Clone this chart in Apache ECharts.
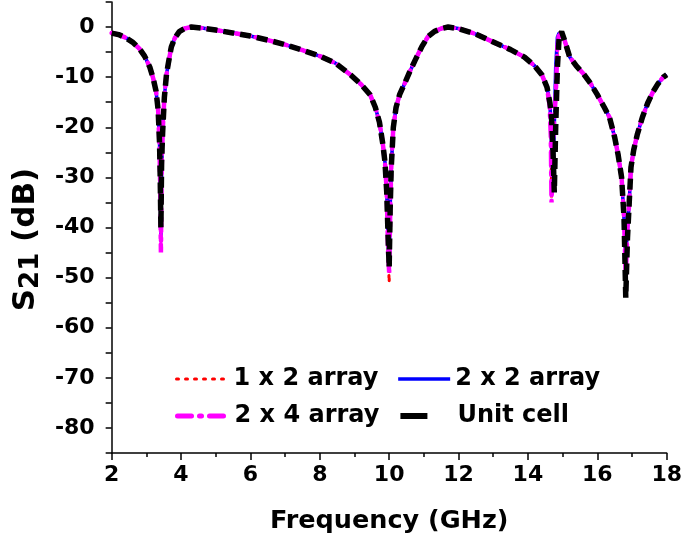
<!DOCTYPE html>
<html>
<head>
<meta charset="utf-8">
<script src="https://cdn.jsdelivr.net/npm/echarts@6/dist/echarts.min.js"></script>
<style>html,body{margin:0;padding:0;background:#fff}#c{width:685px;height:540px}</style>
</head>
<body>
<div id="c"></div>
<script>
var freq = [2.0,2.2,2.4,2.6,2.8,2.95,3.1,3.2,3.28,3.34,
  3.38,3.40,3.42,3.44,3.47,3.52,3.58,3.64,3.72,3.82,
  3.95,4.1,4.3,4.6,5.0,5.6,6.0,6.5,7.0,7.5,
  8.0,8.45,8.9,9.2,9.45,9.6,9.72,9.82,9.88,9.93,
  9.97,10.0,10.03,10.06,10.12,10.2,10.3,10.45,10.6,10.75,
  10.95,11.12,11.3,11.5,11.7,12.0,12.5,13.1,13.5,13.9,
  14.2,14.4,14.55,14.63,14.66,14.68,14.72,14.76,14.8,14.85,
  14.9,14.97,15.05,15.2,15.4,15.6,15.8,16.0,16.2,16.35,
  16.5,16.6,16.7,16.77,16.82,16.87,16.92,16.97,17.05,17.15,
  17.3,17.45,17.6,17.75,17.9,18.0];

var unitCell = [-1.2,-1.5,-2.1,-3.0,-4.3,-5.8,-8.0,-10.3,-12.8,-16.5,
  -23,-30,-40,-27,-21,-14,-9.5,-7,-4,-2.2,
  -0.9,-0.3,0,-0.2,-0.6,-1.3,-1.8,-2.6,-3.5,-4.6,
  -5.8,-7.2,-9.6,-11.5,-13.5,-16,-19,-23.5,-27,-33,
  -42,-48,-36,-28,-20,-16,-13.5,-11.2,-8.8,-6.6,
  -3.8,-1.9,-0.9,-0.3,0,-0.3,-1.4,-3.3,-4.5,-6.0,
  -7.8,-9.5,-12,-15,-16.5,-18,-24,-33,-20,-8,
  -2,-0.9,-2.5,-5.9,-7.8,-9.3,-11.2,-13.5,-16,-18,
  -22,-25.5,-30,-38,-54,-42,-35,-28,-24.5,-21.5,
  -18,-15.2,-13,-11.3,-10,-9.5];

var array2x4 = [-1.2,-1.5,-2.1,-3.0,-4.3,-5.8,-8.0,-10.3,-12.8,-16.5,
  -24,-32,-45,-29,-21,-14,-9.5,-7,-4,-2.2,
  -0.9,-0.3,0,-0.2,-0.6,-1.3,-1.8,-2.6,-3.5,-4.6,
  -5.8,-7.2,-9.6,-11.5,-13.5,-16,-19,-23.5,-27,-33,
  -45,-49,-37,-28,-20,-16,-13.5,-11.2,-8.8,-6.6,
  -3.8,-1.9,-0.9,-0.3,0,-0.3,-1.4,-3.3,-4.5,-6.0,
  -7.8,-9.5,-12,-16,-22,-35,-24,-18,-14,-4,
  -1,-1.5,-2.5,-5.9,-7.8,-9.3,-11.2,-13.5,-16,-18,
  -22,-25.5,-30,-38,-50,-40,-35,-28,-24.5,-21.5,
  -18,-15.2,-13,-11.3,-10,-9.5];

var array2x2 = [-1.2,-1.5,-2.1,-3.0,-4.3,-5.8,-8.0,-10.3,-12.8,-16.5,
  -23,-31,-42,-28,-21,-14,-9.5,-7,-4,-2.2,
  -0.9,-0.3,0,-0.2,-0.6,-1.3,-1.8,-2.6,-3.5,-4.6,
  -5.8,-7.2,-9.6,-11.5,-13.5,-16,-19,-23.5,-27,-33,
  -43,-48,-36,-28,-20,-16,-13.5,-11.2,-8.8,-6.6,
  -3.8,-1.9,-0.9,-0.3,0,-0.3,-1.4,-3.3,-4.5,-6.0,
  -7.8,-9.5,-12,-15,-19,-24,-30,-20,-8,-2,
  -1.2,-1.4,-2.5,-5.9,-7.8,-9.3,-11.2,-13.5,-16,-18,
  -22,-25.5,-30,-38,-46,-40,-35,-28,-24.5,-21.5,
  -18,-15.2,-13,-11.3,-10,-9.5];

var array1x2 = [-1.2,-1.5,-2.1,-3.0,-4.3,-5.8,-8.0,-10.3,-12.8,-16.5,
  -24,-32,-44,-29,-21,-14,-9.5,-7,-4,-2.2,
  -0.9,-0.3,0,-0.2,-0.6,-1.3,-1.8,-2.6,-3.5,-4.6,
  -5.8,-7.2,-9.6,-11.5,-13.5,-16,-19,-23.5,-27,-33,
  -45,-51,-37,-28,-20,-16,-13.5,-11.2,-8.8,-6.6,
  -3.8,-1.9,-0.9,-0.3,0,-0.3,-1.4,-3.3,-4.5,-6.0,
  -7.8,-9.5,-12,-16,-22,-34,-24,-18,-12,-4,
  -1,-1.5,-2.5,-5.9,-7.8,-9.3,-11.2,-13.5,-16,-18,
  -22,-25.5,-30,-38,-52,-41,-35,-28,-24.5,-21.5,
  -18,-15.2,-13,-11.3,-10,-9.5];

var seriesNames = ['1 x 2 array', '2 x 2 array', '2 x 4 array', 'Unit cell'];
var xTicks = [2, 4, 6, 8, 10, 12, 14, 16, 18];
var yTicks = [0, -10, -20, -30, -40, -50, -60, -70, -80];

function pairs(v) { return freq.map(function (f, i) { return [f, v[i]]; }); }

var FONT = 'DejaVu Sans';
var legendText = {fontFamily: FONT, fontWeight: 'bold', fontSize: 24, color: '#000'};
var chart = echarts.init(document.getElementById('c'), null, {renderer: 'canvas'});
chart.setOption({
  animation: false,
  backgroundColor: '#fff',
  grid: {left: 107, right: 17, top: 2, bottom: 87, containLabel: false},
  legend: [
    {data: [
      {name: seriesNames[0], lineStyle: {color: '#ff0000', width: 3, type: [2, 7], cap: 'round'}},
      {name: seriesNames[1], lineStyle: {color: '#0000ff', width: 3.5, type: 'solid'}}
     ],
     left: 170, top: 362, itemWidth: 52, itemHeight: 14, itemGap: 18,
     itemStyle: {opacity: 0}, textStyle: legendText},
    {data: [
      {name: seriesNames[2], lineStyle: {color: '#ff00ff', width: 5, type: [14, 8, 2, 8], cap: 'round'}},
      {name: seriesNames[3], lineStyle: {color: '#000000', width: 6, type: [27, 40]}}
     ],
     left: 170, top: 399, itemWidth: 52, itemHeight: 14, itemGap: 18,
     itemStyle: {opacity: 0}, textStyle: legendText}
  ],
  xAxis: {
    type: 'value', min: 2, max: 18, interval: 2,
    name: 'Frequency (GHz)', nameLocation: 'middle', nameGap: 55,
    nameTextStyle: {fontFamily: FONT, fontWeight: 'bold', fontSize: 25.5, color: '#000'},
    axisLine: {show: true, onZero: false, lineStyle: {color: '#000', width: 1.5}},
    axisTick: {show: true, inside: false, length: 7, lineStyle: {color: '#000', width: 1.5}},
    minorTick: {show: true, splitNumber: 2, length: 4, lineStyle: {color: '#000', width: 1.5}},
    splitLine: {show: false},
    axisLabel: {margin: 11, fontFamily: FONT, fontWeight: 'bold', fontSize: 22, color: '#000',
      formatter: function (v) { return xTicks.indexOf(v) >= 0 ? String(v) : ''; }}
  },
  yAxis: {
    type: 'value', min: -85, max: 5, interval: 5,
    name: '{s|S}{sub|21}{s| (dB)}', nameLocation: 'middle', nameRotate: 90, nameGap: 61,
    nameTextStyle: {fontFamily: FONT, fontWeight: 'bold', fontSize: 31, color: '#000', padding: [0, 24, 0, 0],
      rich: {
        s: {fontFamily: FONT, fontWeight: 'bold', fontSize: 31, lineHeight: 34, color: '#000'},
        sub: {fontFamily: FONT, fontWeight: 'bold', fontSize: 26, lineHeight: 24, padding: [10, 0, 0, 0], color: '#000'}
      }},
    axisLine: {show: true, onZero: false, lineStyle: {color: '#000', width: 1.5}},
    axisTick: {show: true, inside: false, length: 6, lineStyle: {color: '#000', width: 1.5}},
    splitLine: {show: false},
    axisLabel: {margin: 17, fontFamily: FONT, fontWeight: 'bold', fontSize: 22, color: '#000',
      formatter: function (v) { return yTicks.indexOf(v) >= 0 ? String(v) : ''; }}
  },
  series: [
    {name: seriesNames[0], type: 'line', data: pairs(array1x2), showSymbol: false, symbol: 'none', z: 1,
     lineStyle: {color: '#ff0000', width: 3, type: [2, 7], cap: 'round'}, itemStyle: {color: '#ff0000'}},
    {name: seriesNames[1], type: 'line', data: pairs(array2x2), showSymbol: false, symbol: 'none', z: 2,
     lineStyle: {color: '#0000ff', width: 3.5, type: 'solid'}, itemStyle: {color: '#0000ff'}},
    {name: seriesNames[2], type: 'line', data: pairs(array2x4), showSymbol: false, symbol: 'none', z: 3,
     lineStyle: {color: '#ff00ff', width: 4.5, type: [14, 6, 3, 6], cap: 'round'}, itemStyle: {color: '#ff00ff'}},
    {name: seriesNames[3], type: 'line', data: pairs(unitCell), showSymbol: false, symbol: 'none', z: 4,
     lineStyle: {color: '#000000', width: 5.5, type: [11, 6]}, itemStyle: {color: '#000000'}}
  ]
});
</script>
</body>
</html>
